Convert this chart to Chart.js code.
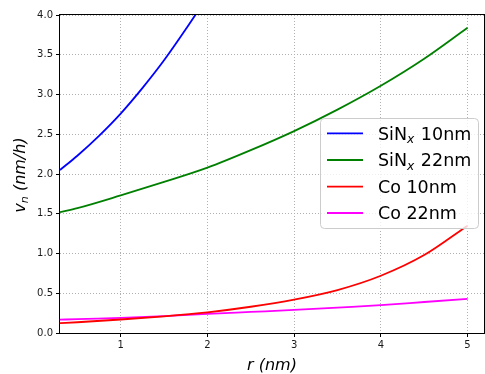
<!DOCTYPE html>
<html>
<head>
<meta charset="utf-8">
<script src="https://cdn.jsdelivr.net/npm/chart.js@4/dist/chart.umd.min.js"></script>
<style>
  html, body { margin: 0; padding: 0; background: #fff; }
  #wrap { width: 485px; height: 374px; }
</style>
</head>
<body>
<div id="wrap"><canvas id="vnChart" width="485" height="374"></canvas></div>
<script>
// r (nm) values
const rBlue = [0.3, 0.5, 0.75, 1.0, 1.25, 1.5, 1.75, 2.0];
const sinx10 = [2.05, 2.23, 2.48, 2.76, 3.08, 3.43, 3.82, 4.23];

const rAll = [0.3, 0.5, 1.0, 1.5, 2.0, 2.5, 3.0, 3.5, 4.0, 4.5, 5.0];
const sinx22 = [1.52, 1.57, 1.73, 1.90, 2.08, 2.30, 2.54, 2.81, 3.11, 3.45, 3.84];
const co10 = [0.125, 0.135, 0.17, 0.21, 0.26, 0.33, 0.42, 0.54, 0.72, 0.98, 1.35];
const co22 = [0.167, 0.175, 0.19, 0.213, 0.24, 0.265, 0.29, 0.32, 0.35, 0.39, 0.43];

const labels = ["SiN_x 10nm", "SiN_x 22nm", "Co 10nm", "Co 22nm"];
const colors = ["#0000ff", "#008000", "#ff0000", "#ff00ff"];

const xTicks = [1, 2, 3, 4, 5];

const FONT = '"DejaVu Sans", Verdana, sans-serif';

function pts(xs, ys) {
  return xs.map((x, i) => ({ x: x, y: ys[i] }));
}

function ds(i, data) {
  return {
    label: labels[i],
    data: data,
    borderColor: colors[i],
    backgroundColor: colors[i],
    borderWidth: 1.8,
    pointRadius: 0,
    cubicInterpolationMode: "monotone",
    fill: false
  };
}

// draws text like "SiN_x 10nm" with a lowered italic subscript
function drawSubText(ctx, txt, x, y, size) {
  const m = txt.match(/^(.*?)_(\w)(.*)$/);
  ctx.textBaseline = "alphabetic";
  ctx.textAlign = "left";
  if (!m) {
    ctx.font = size + "px " + FONT;
    ctx.fillText(txt, x, y);
    return;
  }
  ctx.font = size + "px " + FONT;
  ctx.fillText(m[1], x, y);
  x += ctx.measureText(m[1]).width;
  ctx.font = "italic " + (size * 0.7) + "px " + FONT;
  ctx.fillText(m[2], x, y + size * 0.2);
  x += ctx.measureText(m[2]).width + 1;
  ctx.font = size + "px " + FONT;
  ctx.fillText(m[3], x, y);
}

const extras = {
  id: "extras",
  afterDraw(chart) {
    const ctx = chart.ctx;
    const a = chart.chartArea;
    ctx.save();

    // frame
    ctx.strokeStyle = "#000";
    ctx.lineWidth = 1;
    ctx.strokeRect(Math.round(a.left) - 0.5, Math.round(a.top) - 0.5,
      Math.round(a.right - a.left) + 1, Math.round(a.bottom - a.top) + 1);

    // x title
    ctx.fillStyle = "#000";
    ctx.font = "italic 16px " + FONT;
    ctx.textAlign = "center";
    ctx.textBaseline = "alphabetic";
    ctx.fillText("r (nm)", (a.left + a.right) / 2, 370);

    // y title, rotated
    ctx.save();
    ctx.translate(24.5, 175);
    ctx.rotate(-Math.PI / 2);
    ctx.font = "italic 16px " + FONT;
    const w1 = ctx.measureText("v").width;
    ctx.font = "italic 11px " + FONT;
    const w2 = ctx.measureText("n").width;
    ctx.font = "italic 16px " + FONT;
    const w3 = ctx.measureText(" (nm/h)").width;
    let x0 = -(w1 + w2 + w3) / 2;
    ctx.textAlign = "left";
    ctx.fillText("v", x0, 0);
    ctx.font = "italic 11px " + FONT;
    ctx.fillText("n", x0 + w1, 3);
    ctx.font = "italic 16px " + FONT;
    ctx.fillText(" (nm/h)", x0 + w1 + w2, 0);
    ctx.restore();

    // legend box
    const bx = 320.5, by = 118.5, bw = 158, bh = 110, r = 4;
    ctx.beginPath();
    ctx.moveTo(bx + r, by);
    ctx.arcTo(bx + bw, by, bx + bw, by + bh, r);
    ctx.arcTo(bx + bw, by + bh, bx, by + bh, r);
    ctx.arcTo(bx, by + bh, bx, by, r);
    ctx.arcTo(bx, by, bx + bw, by, r);
    ctx.closePath();
    ctx.fillStyle = "rgba(255,255,255,0.8)";
    ctx.fill();
    ctx.strokeStyle = "#cccccc";
    ctx.lineWidth = 1;
    ctx.stroke();

    const rows = [133.3, 160, 186.7, 213];
    chart.data.datasets.forEach((d, i) => {
      const y = rows[i];
      ctx.strokeStyle = d.borderColor;
      ctx.lineWidth = 1.8;
      ctx.beginPath();
      ctx.moveTo(327, y);
      ctx.lineTo(363, y);
      ctx.stroke();
      ctx.fillStyle = "#000";
      drawSubText(ctx, d.label, 378, y + 6.4, 17.5);
    });

    ctx.restore();
  }
};

const ctx = document.getElementById("vnChart").getContext("2d");
window.vnChart = new Chart(ctx, {
  type: "line",
  data: {
    datasets: [
      ds(0, pts(rBlue, sinx10)),
      ds(1, pts(rAll, sinx22)),
      ds(2, pts(rAll, co10)),
      ds(3, pts(rAll, co22))
    ]
  },
  options: {
    responsive: false,
    animation: false,
    devicePixelRatio: 1,
    layout: { padding: { top: 15, right: 1, left: 0, bottom: 0 } },
    plugins: { legend: { display: false }, tooltip: { enabled: false } },
    scales: {
      x: {
        type: "linear",
        min: 0.3,
        max: 5.19,
        afterBuildTicks: s => { s.ticks = xTicks.map(v => ({ value: v })); },
        afterFit: s => { s.height = 41; },
        grid: {
          color: "#b0b0b0",
          lineWidth: 1,
          drawTicks: true,
          tickLength: 4,
          tickColor: "#000",
          tickWidth: 1,
          tickBorderDash: []
        },
        border: { display: false, dash: [1, 2] },
        ticks: {
          color: "#1a1a1a",
          font: { family: FONT, size: 10 },
          padding: 2,
          maxRotation: 0,
          callback: v => String(v)
        }
      },
      y: {
        min: 0,
        max: 4,
        afterFit: s => { s.width = 60; },
        grid: {
          color: "#b0b0b0",
          lineWidth: 1,
          drawTicks: true,
          tickLength: 4,
          tickColor: "#000",
          tickWidth: 1,
          tickBorderDash: []
        },
        border: { display: false, dash: [1, 2] },
        ticks: {
          stepSize: 0.5,
          color: "#1a1a1a",
          font: { family: FONT, size: 10 },
          padding: 3,
          callback: v => v.toFixed(1)
        }
      }
    }
  },
  plugins: [extras]
});
</script>
</body>
</html>
